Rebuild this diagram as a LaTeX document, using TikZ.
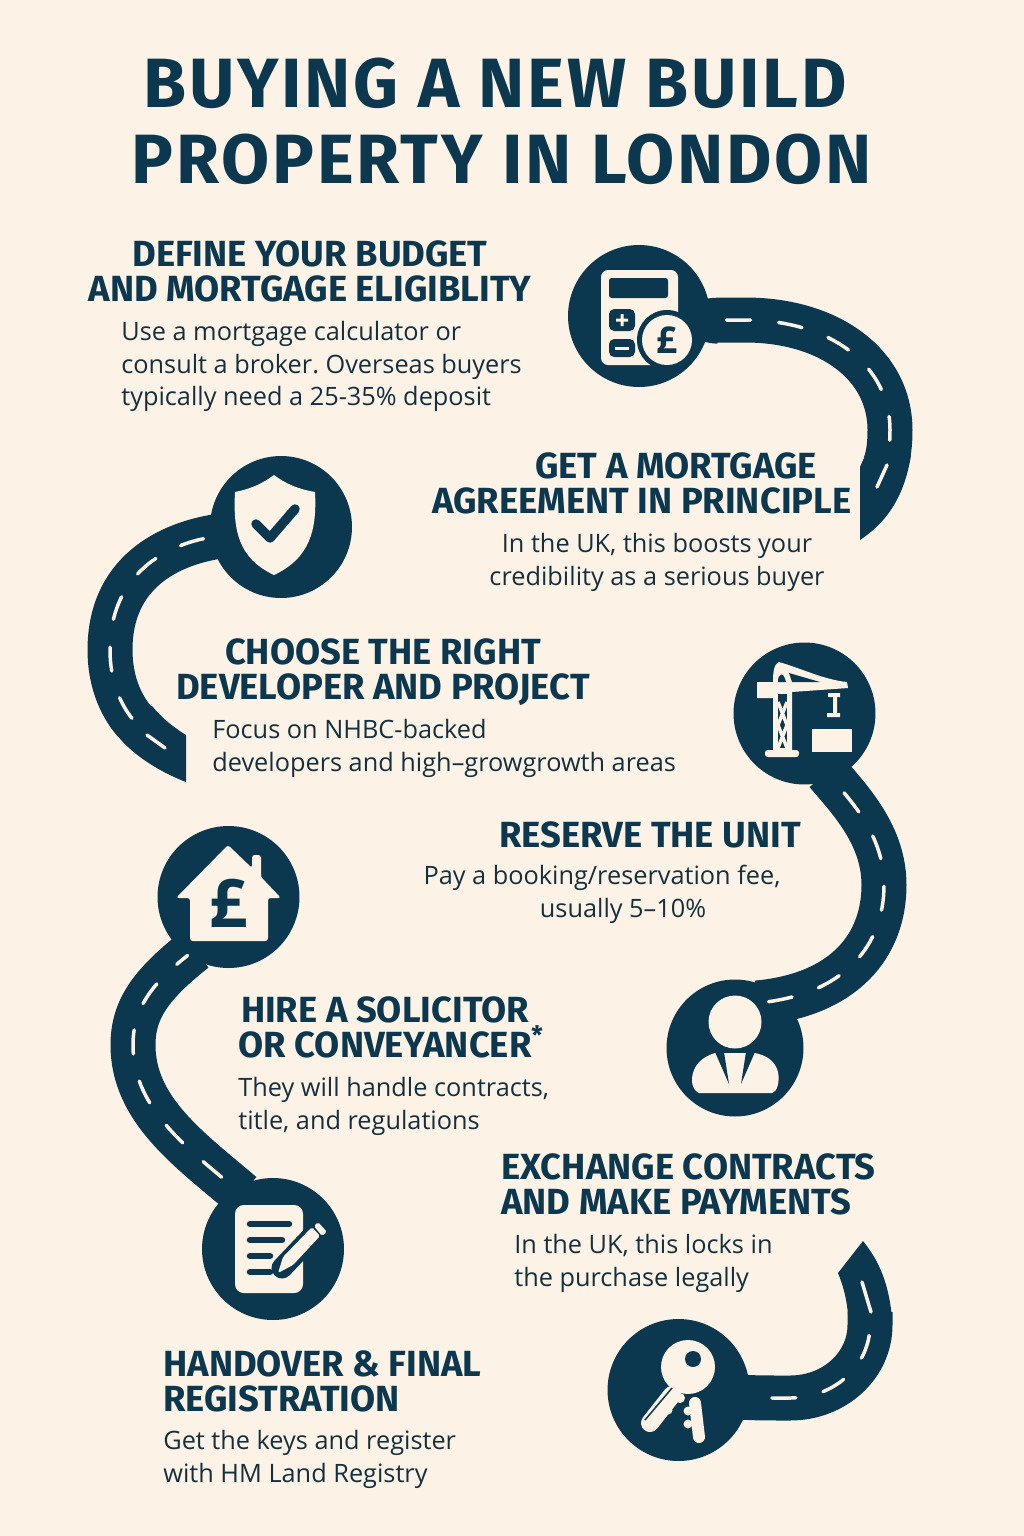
\documentclass[tikz,border=0pt]{standalone}
\usepackage{fontspec}
\setmainfont{Open Sans}
\newfontfamily\headfont{Fira Sans}
\definecolor{navy}{HTML}{0C384F}
\definecolor{paper}{HTML}{FCF3E6}
\definecolor{bodyink}{HTML}{14303F}

\begin{document}
\begin{tikzpicture}[x=0.02cm,y=-0.02cm]
\tikzset{stop/.style = {shape=circle,fill=navy,minimum size=2.84cm,inner sep=0pt}}
\tikzset{lane/.style = {draw=paper,line width=.07cm,line cap=round}}
\tikzset{road/.style = {draw=navy,line width=.9cm,shorten <=-5pt,
  postaction={lane,shorten <=0pt,dash pattern=on .48cm off .56cm,dash phase=#1}}}
\tikzset{heading/.style = {anchor=north,inner sep=0pt,text=navy,align=center,
  font=\fontsize{20.7pt}{20.2pt}\selectfont\headfont\bfseries}}
\tikzset{detail/.style = {anchor=north west,inner sep=0pt,text=bodyink,align=left,
  font=\fontsize{14.4pt}{18.5pt}\selectfont\frenchspacing}}
\tikzset{pound/.style = {inner sep=0pt,text=navy,font=\fontsize{#1}{#1}\selectfont\bfseries}}

\useasboundingbox[fill=paper] (0,0) rectangle (1024,1536);

\node[anchor=north,inner sep=0pt,text=navy,align=center,
  font=\fontsize{39.7pt}{43.3pt}\selectfont\headfont\bfseries\addfontfeatures{LetterSpace=4}]
  (title) at (495,58) {BUYING A NEW BUILD\\\hspace*{.28cm}PROPERTY IN LONDON};

\foreach \pos/\name in {{(639,316)/calc}, {(281,527)/shield}, {(804.5,713.5)/crane},
  {(228.5,897)/house}, {(273,1249)/paper}, {(678.5,1390)/key}}
\node[stop] (\name) at \pos {};
\node[stop,minimum size=2.74cm] (person) at (735,1048) {};

\coordinate (tip1) at (885,465);
\coordinate (tail1) at (877,487);
\coordinate (tip2) at (135,722);
\coordinate (tail2) at (165,748);
\coordinate (tip3) at (871,1312);
\coordinate (tail3) at (862,1282);
\coordinate (personin) at (757,1003);

% road ends
\fill[navy] (864,458) -- (860,467) -- (860,540) .. controls (884,524) and (904,500) .. (911,455) -- cycle;
\fill[navy] (152,706) .. controls (162,718) and (173,727) .. (186,735) -- (186,782)
  .. controls (155,770) and (130,752) .. (117,735) -- cycle;
\fill[navy] (848,1315) .. controls (847,1300) and (843,1285) .. (838,1273) -- (863,1241)
  .. controls (880,1262) and (889,1285) .. (892,1318) -- cycle;

% roads
\draw[road=.63cm] (calc) .. controls (700,320) and (730,320) .. (745,320)
  .. controls (830,320) and (890,365) .. (890,430) .. controls (890,442) and (889,455) .. (tip1);
\draw[road=.9cm] (shield) .. controls (180,542) and (110,565) .. (110,650)
  .. controls (110,680) and (120,705) .. (tip2);
\draw[road=.68cm] (crane.-67) .. controls (850,800) and (884,835) .. (884,885)
  .. controls (884,945) and (845,995) .. (personin);
\draw[road=.2cm,shorten >=-5pt] (house.-125) .. controls (150,985) and (133,1010) .. (133,1045)
  .. controls (133,1110) and (190,1150) .. (paper.122);
\draw[road=.59cm] (key) .. controls (750,1398) and (770,1398) .. (790,1398)
  .. controls (835,1398) and (870,1365) .. (870,1325) .. controls (870,1320) and (870,1316) .. (870,1312);
\draw[lane] (tip1) ++(2,0) -- (tail1);
\draw[lane] (tip2) ++(12,13) -- (tail2);
\draw[lane] (tip3) -- (tail3);

% calculator
\fill[paper,rounded corners=4pt] (601,270) rectangle (678,365);
\fill[navy,rounded corners=1.5pt] (609,278) rectangle (668,298);
\fill[navy,rounded corners=3pt] (609,309) rectangle (635,331);
\fill[navy,rounded corners=3pt] (609,339) rectangle (635,357);
\fill[paper] (616,318.5) rectangle (628,321.5) (620.5,314) rectangle (623.5,326);
\fill[paper] (615,346.5) rectangle (629,349.5);
\fill[navy] (667,340) circle (30);
\fill[paper] (667,340) circle (25);
\node[pound=21pt] (calcpound) at (667,340) {£};

% shield
\fill[paper] (274,475) .. controls (262,484) and (250,489) .. (235,492)
  .. controls (233,530) and (238,558) .. (274,575)
  .. controls (310,558) and (317,530) .. (315,492)
  .. controls (298,489) and (286,484) .. (274,475) -- cycle;
\draw[navy,line width=.19cm,line cap=round,line join=round] (256,524) -- (270,538) -- (295,509);

% crane
\fill[paper] (757,682) -- (773,682) .. controls (773,672) and (774,664) .. (779,662)
  .. controls (800,668) and (825,680) .. (847,682) -- (848,688) -- (792,692) -- (792,750)
  -- (773,750) -- (773,698) -- (757,698) -- cycle;
\fill[navy] (778,682) .. controls (778,672) and (784,672) .. (786,682) -- cycle;
\fill[navy] (789,673) -- (820,682) -- (792,682) -- cycle;
\fill[navy] (778,694) rectangle (787,748);
\draw[paper,line width=.07cm] (778,702) -- (787,725) -- (778,748) (787,702) -- (778,725) -- (787,748);
\fill[paper,rounded corners=1.5pt] (765,750) rectangle (799,757);
\fill[paper] (828,693) rectangle (840,697) (833,697) rectangle (837,713) (827,713) rectangle (840,717);
\fill[paper] (812,729) rectangle (852,752);

% house
\fill[paper,rounded corners=1.5pt] (228,845) -- (252,868) -- (252,855) -- (261,855) -- (261,877)
  -- (281,898) -- (268,898) -- (268,941) -- (190,941) -- (190,898) -- (176,898) -- cycle;
\node[pound=38pt] (housepound) at (229,903) {£};

% person
\fill[paper] (735,1022) circle (26.5);
\fill[paper] (699,1093) .. controls (692,1090) and (690,1080) .. (694,1070)
  .. controls (698,1060) and (708,1055) .. (715,1053) -- (755,1053)
  .. controls (765,1055) and (775,1060) .. (778,1072) .. controls (780,1082) and (777,1092) .. (772,1093) -- cycle;
\fill[navy] (715,1052) -- (724,1052) -- (729,1084) -- cycle (755,1052) -- (746,1052) -- (741,1084) -- cycle;

% document
\fill[paper,rounded corners=5pt] (235,1205) rectangle (303,1293);
\foreach \ya/\xa in {1224/289, 1240/282, 1256/270, 1272/270}
\draw[navy,line width=.13cm,line cap=round] (250,\ya) -- (\xa,\ya);
\draw[navy,line width=.42cm,line cap=round] (282,1268) -- (319,1229);
\fill[paper,rounded corners=1pt] (278,1273) -- (283,1257) -- (312,1227) -- (320,1236) -- (293,1265) -- cycle;
\fill[paper,rounded corners=1pt] (314,1226) -- (318,1222) -- (327,1232) -- (322,1236) -- cycle;

% key
\fill[paper] (688,1367) circle (27);
\fill[navy] (693,1359) circle (8);
\draw[paper,line width=.36cm,line cap=round] (672,1395) -- (650,1423);
\fill[paper] (680,1398) circle (5) (668,1410) circle (4.5);
\draw[navy,line width=.03cm] (672,1388) -- (645,1420);
\draw[paper,line width=.24cm,line cap=round] (695,1403) -- (699,1437);
\fill[paper] (688,1411) circle (4.5) (688,1424) circle (4.5);

% texts
\node[heading] (budgethead) at (310,240) {DEFINE YOUR BUDGET\\AND MORTGAGE ELIGIBLITY};
\node[detail] (budgettext) at (121,321) {Use a mortgage calculator or\\consult a broker. Overseas buyers\\typically need a 25-35\% deposit};
\node[heading,anchor=north west,align=left] (agreehead) at (432,452) {\hspace*{2.06cm}GET A MORTGAGE\\AGREEMENT IN PRINCIPLE};
\node[detail,anchor=north,align=center] (agreetext) at (657,533) {In the UK, this boosts your\\credibility as a serious buyer};
\node[heading] (developerhead) at (383,638) {CHOOSE THE RIGHT\\DEVELOPER AND PROJECT};
\node[detail] (developertext) at (212,719) {Focus on NHBC-backed\\developers and high–growgrowth areas};
\node[heading] (reservehead) at (650,821) {RESERVE THE UNIT};
\node[detail,anchor=north,align=center] (reservetext) at (602,865) {Pay a booking/reservation fee,\\\hspace*{.84cm}usually 5–10\%};
\node[heading] (solicitorhead) at (385,996) {HIRE A SOLICITOR\\OR CONVEYANCER\rlap{\textsuperscript{*}}};
\node[detail] (solicitortext) at (238,1077) {They will handle contracts,\\title, and regulations};
\node[heading,anchor=north west,align=left] (exchangehead) at (501,1153) {EXCHANGE CONTRACTS\\AND MAKE PAYMENTS};
\node[detail] (exchangetext) at (514,1234) {In the UK, this locks in\\the purchase legally};
\node[heading,anchor=north west,align=left] (handoverhead) at (163,1350) {HANDOVER \& FINAL\\REGISTRATION};
\node[detail] (handovertext) at (163,1430) {Get the keys and register\\with HM Land Registry};
\end{tikzpicture}
\end{document}
